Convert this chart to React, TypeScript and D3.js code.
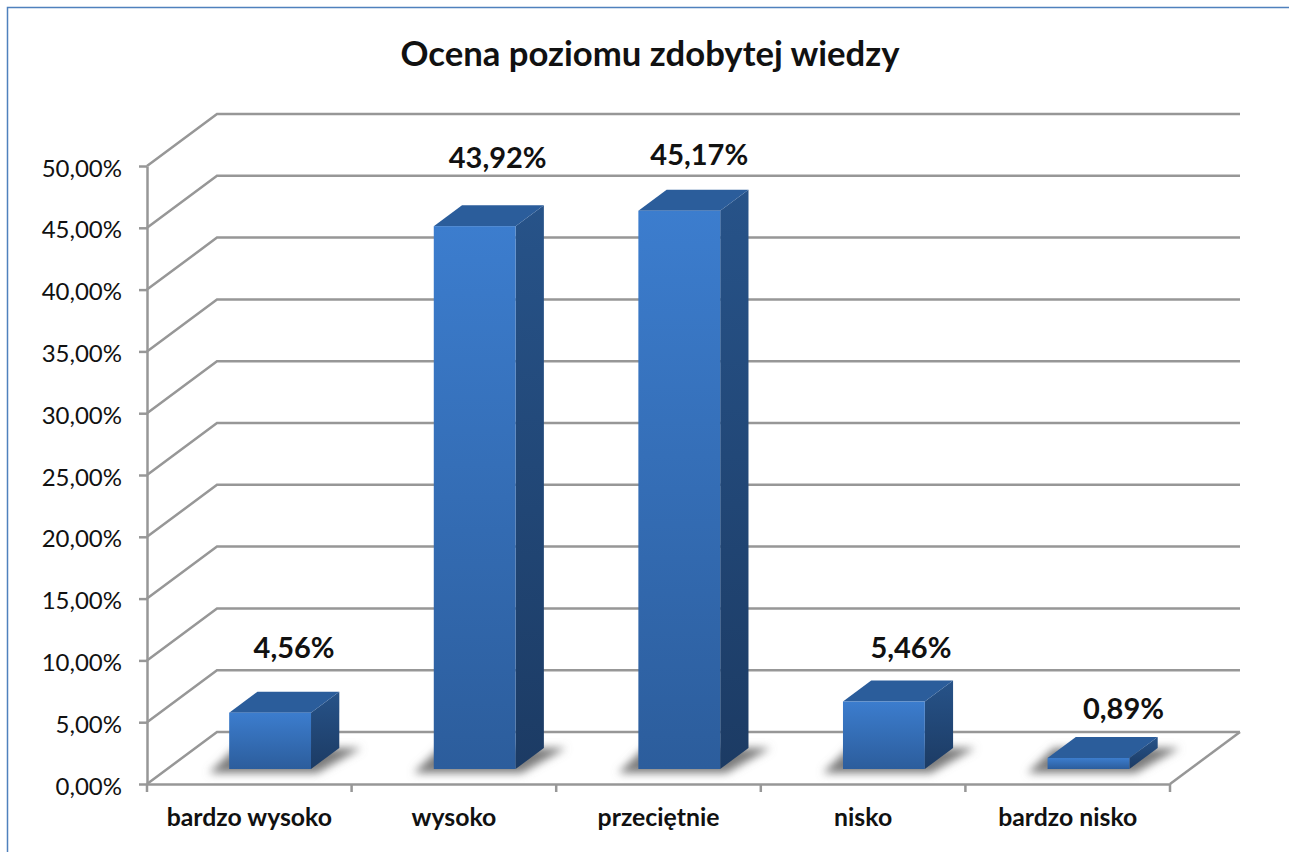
import * as d3 from "d3";
import { useEffect, useRef } from "react";

const title = "Ocena poziomu zdobytej wiedzy";
const categories = ["bardzo wysoko", "wysoko", "przeciętnie", "nisko", "bardzo nisko"];
const values = [4.56, 43.92, 45.17, 5.46, 0.89];
const yTicks = [0, 5, 10, 15, 20, 25, 30, 35, 40, 45, 50];

// the value labels in the picture were dragged by hand, so they don't sit at one fixed distance
const labelNudge = [
  { dx: 24, dy: -55 },
  { dx: 23, dy: -58 },
  { dx: 20, dy: -46 },
  { dx: 27, dy: -44 },
  { dx: 35, dy: -39 },
];

const WIDTH = 1289;
const HEIGHT = 852;
const LEFT = 147;
const RIGHT = 1170;
const TOP = 166;
const BOTTOM = 784;
// 3d offset of the back wall
const DEPTH_X = 70;
const DEPTH_Y = 52;
// where the bars stand on the floor
const BAR_OFFSET_Y = 15;
const BAR_DEPTH_Y = 21;
const GRID = "#979797";
const FONT = "Lato, 'Open Sans', sans-serif";

const locale = d3.formatLocale({
  decimal: ",",
  thousands: " ",
  grouping: [3],
  currency: ["", ""],
});
const fmt = locale.format(".2f");

const xScale = d3
  .scaleBand<string>()
  .domain(categories)
  .range([LEFT, RIGHT])
  .paddingInner(0.6)
  .paddingOuter(0.3);

const yScale = d3.scaleLinear().domain([0, 50]).range([BOTTOM, TOP]);

const toX = (dy: number) => (dy * DEPTH_X) / DEPTH_Y;
const poly = d3.line<[number, number]>();

export default function App() {
  const yAxisRef = useRef<SVGGElement>(null);
  const xAxisRef = useRef<SVGGElement>(null);

  useEffect(() => {
    const yG = d3.select(yAxisRef.current!);
    yG.selectAll("*").remove();
    yG.call(
      d3
        .axisLeft(yScale)
        .tickValues(yTicks)
        .tickSize(8)
        .tickSizeOuter(0)
        .tickPadding(17)
        .tickFormat((d) => fmt(d as number) + "%")
    );
    yG.selectAll("path,line").attr("stroke", GRID).attr("stroke-width", 2.5);
    yG.selectAll("text")
      .attr("font-family", FONT)
      .attr("font-size", 24)
      .attr("dy", "0.42em")
      .attr("fill", "#111");

    const xG = d3.select(xAxisRef.current!);
    xG.selectAll("*").remove();
    xG.call(d3.axisBottom(xScale).tickSize(0).tickSizeOuter(0).tickPadding(24));
    xG.select("path").attr("stroke", GRID).attr("stroke-width", 2.5);
    xG.selectAll("text")
      .attr("font-family", FONT)
      .attr("font-size", 24.8)
      .attr("font-weight", 700)
      .attr("fill", "#111");
  }, []);

  const bw = xScale.bandwidth();
  const barDx = toX(BAR_OFFSET_Y) + 0.6;
  const sideDx = toX(BAR_DEPTH_Y);

  return (
    <svg
      width={WIDTH}
      height={HEIGHT}
      style={{ position: "absolute", left: 0, top: 0, background: "#fff" }}
    >
      <defs>
        <linearGradient id="front" x1="0" y1="0" x2="0" y2="1">
          <stop offset="0" stopColor="#3c7dce" />
          <stop offset="1" stopColor="#2c5d9c" />
        </linearGradient>
        <linearGradient id="side" x1="0" y1="0" x2="0" y2="1">
          <stop offset="0" stopColor="#275389" />
          <stop offset="1" stopColor="#1c3b64" />
        </linearGradient>
        <filter id="blur" x="-30%" y="-60%" width="160%" height="220%">
          <feGaussianBlur stdDeviation="4" />
        </filter>
      </defs>

      {/* frame of the pasted picture */}
      <path d={`M7.5,852V7.5H${WIDTH}`} fill="none" stroke="#4f81bd" strokeWidth={1.5} />

      <text
        x={650}
        y={66}
        textAnchor="middle"
        fontFamily={FONT}
        fontWeight={700}
        fontSize={34.7}
        fill="#111"
      >
        {title}
      </text>

      {/* walls */}
      <g fill="none" stroke={GRID} strokeWidth={2.5}>
        {yTicks.map((t) => (
          <path
            key={t}
            d={`M${LEFT},${yScale(t)}L${LEFT + DEPTH_X},${yScale(t) - DEPTH_Y}H${RIGHT + DEPTH_X}`}
          />
        ))}
        <path d={`M${RIGHT},${BOTTOM}L${RIGHT + DEPTH_X},${BOTTOM - DEPTH_Y}`} />
        {d3.range(categories.length + 1).map((i) => (
          <path key={i} d={`M${LEFT + i * xScale.step()},${BOTTOM}v8`} />
        ))}
      </g>

      <g ref={yAxisRef} transform={`translate(${LEFT},0)`} />
      <g ref={xAxisRef} transform={`translate(0,${BOTTOM})`} />

      {/* bars */}
      {values.map((v, i) => {
        const x0 = xScale(categories[i])! + barDx;
        const x1 = x0 + bw;
        const base = BOTTOM - BAR_OFFSET_Y;
        const top = yScale(v) - BAR_OFFSET_Y;
        return (
          <g key={categories[i]}>
            <path
              d={
                poly([
                  [x0 - 20, base + 4],
                  [x1 + 6, base + 4],
                  [x1 + sideDx + 22, base - BAR_DEPTH_Y],
                  [x0 + 6, base - BAR_DEPTH_Y],
                ]) + "Z"
              }
              fill="#7c7c7c"
              filter="url(#blur)"
            />
            <path
              d={
                poly([
                  [x1, top],
                  [x1 + sideDx, top - BAR_DEPTH_Y],
                  [x1 + sideDx, base - BAR_DEPTH_Y],
                  [x1, base],
                ]) + "Z"
              }
              fill="url(#side)"
            />
            <path
              d={
                poly([
                  [x0, top],
                  [x0 + sideDx, top - BAR_DEPTH_Y],
                  [x1 + sideDx, top - BAR_DEPTH_Y],
                  [x1, top],
                ]) + "Z"
              }
              fill="#2b5d9b"
            />
            <rect x={x0} y={top} width={bw} height={base - top} fill="url(#front)" />
            <text
              x={x0 + bw / 2 + labelNudge[i].dx}
              y={top + labelNudge[i].dy}
              textAnchor="middle"
              fontFamily={FONT}
              fontWeight={700}
              fontSize={29}
              fill="#111"
            >
              {fmt(v)}%
            </text>
          </g>
        );
      })}
    </svg>
  );
}
